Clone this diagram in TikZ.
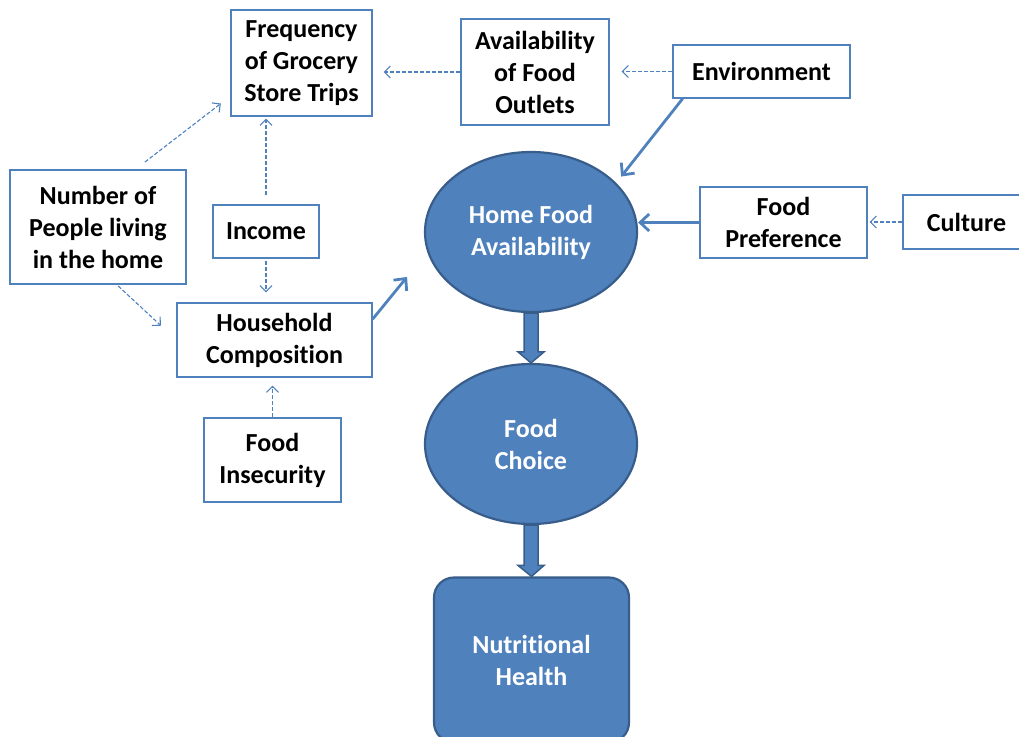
\documentclass[tikz,border=0pt]{standalone}
\usepackage{fontspec}
\setmainfont{Carlito}[RawFeature={-liga,-clig,-dlig,-calt}]
\usetikzlibrary{arrows.meta,calc,shapes.geometric}

\definecolor{boxblue}{HTML}{4F81BD}
\definecolor{rimblue}{HTML}{385D8A}

% wide block arrow from the bottom of #1 down to the top of #2
\newcommand{\blockarrow}[2]{%
  \filldraw[fill=boxblue, draw=rimblue, line width=1.5pt, line join=miter]
    let \p1=(#1.south), \p2=(#2.north) in
    (\x1-7pt,\y1) -- (\x1-7pt,\y2+11pt) -- (\x1-13pt,\y2+11pt) -- (\x2,\y2)
    -- (\x1+13pt,\y2+11pt) -- (\x1+7pt,\y2+11pt) -- (\x1+7pt,\y1) -- cycle;}

\begin{document}
\begin{tikzpicture}[x=1pt, y=-1pt,
    every node/.style={font=\fontsize{26}{32}\selectfont\bfseries, align=center, inner sep=0pt},
    factor/.style={draw=boxblue, line width=1.3pt, fill=white, text=black},
    hub/.style={draw=rimblue, line width=2.2pt, fill=boxblue, text=white},
    link/.style={draw=boxblue, line width=1.1pt, dash pattern=on 4pt off 2pt,
                 -{Straight Barb[length=6pt,width=12pt]}},
    cause/.style={draw=boxblue, line width=2.8pt,
                  -{Straight Barb[length=9pt,width=17pt]}}]
    \useasboundingbox (0,0) rectangle (1019,736);
    \clip (0,0) rectangle (1019,736);

    % outer factors
    \node[factor, minimum width=141, minimum height=106] (freq) at (301.5,63) {Frequency\\of Grocery\\Store Trips};
    \node[factor, minimum width=148, minimum height=106] (outlets) at (535,72) {Availability\\of Food\\Outlets};
    \node[factor, minimum width=177, minimum height=53] (env) at (761.5,71.5) {Environment};
    \node[factor, minimum width=176, minimum height=114] (people) at (98,227) {Number of\\People living\\in the home};
    \node[factor, minimum width=106, minimum height=53] (income) at (266,231.5) {Income};
    \node[factor, minimum width=195, minimum height=74] (house) at (274.5,340) {Household\\Composition};
    \node[factor, minimum width=137, minimum height=84] (insec) at (272.5,460) {Food\\Insecurity};
    \node[factor, minimum width=167, minimum height=71] (pref) at (783.5,222.5) {Food\\Preference};
    \node[factor, minimum width=127, minimum height=54] (culture) at (966.5,222) {Culture};

    % main chain
    \node[hub, ellipse, minimum width=212, minimum height=160] (hfa) at (531,232) {Home Food\\Availability};
    \node[hub, ellipse, minimum width=212, minimum height=160] (choice) at (531,444) {Food\\Choice};
    \node[hub, rounded corners=20pt, minimum width=195, minimum height=165] (health) at (531.5,660) {Nutritional\\Health};

    \blockarrow{hfa}{choice}
    \blockarrow{choice}{health}

    % dashed influences
    \draw[link, shorten >=11pt] (outlets.west) -- (outlets.west -| freq.east);
    \draw[link, shorten >=12pt] (env.west) -- (env.west -| outlets.east);
    \draw[link, shorten <=12pt, shorten >=12pt] (people.57) -- (freq.205);
    \draw[link, shorten <=9pt, shorten >=2pt] (income.north) -- (income.north |- freq.south);
    \draw[link, shorten <=2pt, shorten >=10pt] (income.south) -- (income.south |- house.north);
    \draw[link, shorten <=2pt, shorten >=21pt] (people.-72) -- (house.west);
    \draw[link, shorten >=8pt] (insec.north) -- (insec.north |- house.south);
    \draw[link, shorten >=2pt] (culture.west) -- (culture.west -| pref.east);

    % solid influences on home food availability
    \draw[cause, shorten >=32pt] (house.12) -- (hfa.191);
    \draw[cause, shorten >=8pt] (env.199) -- (hfa.30);
    \draw[cause] (pref.west) -- (pref.west -| hfa.east);
\end{tikzpicture}
\end{document}
